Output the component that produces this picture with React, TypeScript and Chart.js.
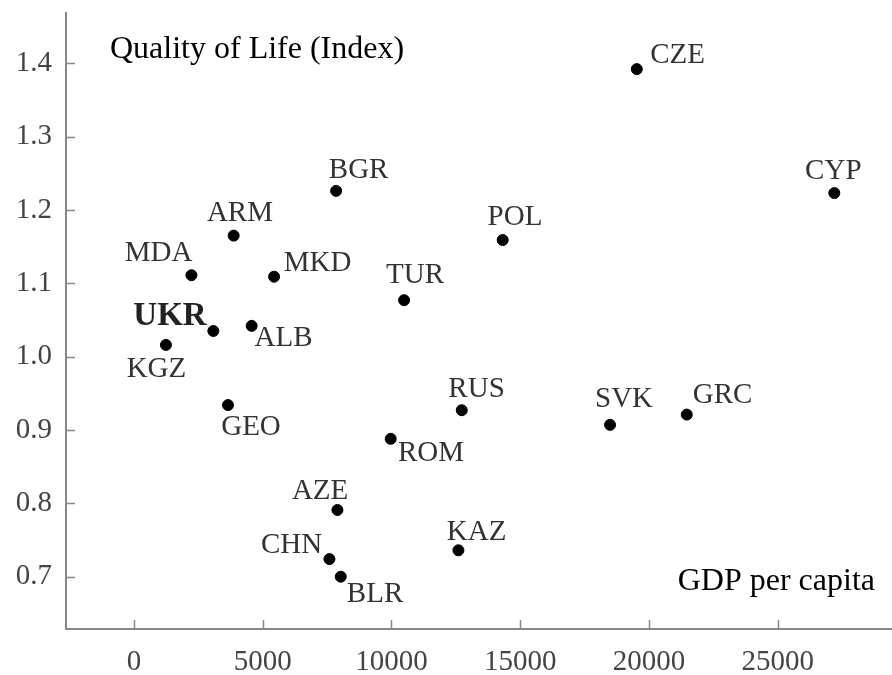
import React, { useEffect, useRef } from "react";
import { Chart, registerables } from "chart.js";

Chart.register(...registerables);

const countries = ["CZE", "CYP", "POL", "BGR", "ARM", "MDA", "MKD", "TUR", "UKR", "ALB", "KGZ", "GEO", "ROM", "AZE", "CHN", "BLR", "RUS", "SVK", "GRC", "KAZ"];
const gdpPerCapita = [19530, 27200, 14320, 7850, 3870, 2230, 5440, 10490, 3080, 4570, 1240, 3650, 9970, 7900, 7590, 8030, 12730, 18490, 21470, 12600];
const qualityOfLife = [1.392, 1.223, 1.159, 1.226, 1.165, 1.111, 1.109, 1.077, 1.035, 1.042, 1.016, 0.934, 0.888, 0.791, 0.724, 0.700, 0.927, 0.907, 0.921, 0.736];
// label offsets (style): text centre relative to the dot, in px
const labelDx = [40.8, -1, 12.3, 22.5, 6.3, -32.8, 43.5, 11, -43.3, 31.8, -9.5, 23, 40.3, -17.3, -37.8, 34.3, 14.8, 14, 35.8, 18.2];
const labelDy = [-13.5, -21.7, -22.5, -20.7, -22.7, -22.3, -13.7, -24.5, -14.5, 13, 24, 22.7, 14.5, -19, -13.3, 18, -21, -25, -19, -18.2];
const boldLabel = "UKR";

const xTicks = [0, 5000, 10000, 15000, 20000, 25000];
const yTicks = [0.7, 0.8, 0.9, 1.0, 1.1, 1.2, 1.3, 1.4];
const yTitle = "Quality of Life (Index)";
const xTitle = "GDP per capita";

const SERIF = "'Liberation Serif', 'Times New Roman', serif";

const overlayPlugin = {
  id: "overlay",
  afterDraw(chart: any) {
    const ctx = chart.ctx;
    const xs = chart.scales.x;
    const ys = chart.scales.y;
    const area = chart.chartArea;
    ctx.save();
    // inward tick marks
    ctx.strokeStyle = "#888";
    ctx.lineWidth = 1.5;
    ctx.beginPath();
    yTicks.forEach((v) => {
      const py = Math.round(ys.getPixelForValue(v)) + 0.5;
      ctx.moveTo(area.left, py);
      ctx.lineTo(area.left + 9, py);
    });
    xTicks.forEach((v) => {
      const px = Math.round(xs.getPixelForValue(v)) + 0.5;
      ctx.moveTo(px, area.bottom);
      ctx.lineTo(px, area.bottom - 9);
    });
    ctx.stroke();

    // point labels
    const meta = chart.getDatasetMeta(0);
    ctx.textAlign = "center";
    ctx.textBaseline = "middle";
    countries.forEach((c, i) => {
      const el = meta.data[i];
      if (!el) return;
      if (c === boldLabel) {
        ctx.font = `bold 33px ${SERIF}`;
        ctx.fillStyle = "#222";
      } else {
        ctx.font = `29px ${SERIF}`;
        ctx.fillStyle = "#333";
      }
      ctx.fillText(c, el.x + labelDx[i], el.y + labelDy[i]);
    });

    // axis titles
    ctx.fillStyle = "#000";
    ctx.font = `32px ${SERIF}`;
    ctx.textBaseline = "alphabetic";
    ctx.textAlign = "left";
    ctx.fillText(yTitle, area.left + 44, area.top + 45);
    ctx.textAlign = "right";
    ctx.fillText(xTitle, area.right - 17, area.bottom - 39);
    ctx.restore();
  },
};

export default function App() {
  const canvasRef = useRef<HTMLCanvasElement | null>(null);

  useEffect(() => {
    document.body.style.margin = "0";
    const canvas = canvasRef.current;
    if (!canvas) return;
    const points = gdpPerCapita.map((g, i) => ({ x: g, y: qualityOfLife[i] }));
    const chart = new Chart(canvas, {
      type: "scatter",
      data: {
        datasets: [
          {
            label: "Countries",
            data: points,
            backgroundColor: "#000",
            borderColor: "#000",
            pointRadius: 5.5,
            pointHoverRadius: 5.5,
          },
        ],
      },
      options: {
        animation: false,
        responsive: false,
        maintainAspectRatio: false,
        layout: { autoPadding: false, padding: { top: 13, right: 0, left: 0, bottom: 0 } },
        plugins: {
          legend: { display: false },
          tooltip: { enabled: false },
          title: { display: false },
        },
        scales: {
          x: {
            type: "linear",
            min: -2642,
            max: 29441,
            grid: { display: false, drawTicks: false },
            border: { display: true, color: "#888", width: 2 },
            afterFit: (s: any) => {
              s.height = 46;
              s.paddingLeft = 0;
              s.paddingRight = 0;
            },
            afterBuildTicks: (s: any) => {
              s.ticks = xTicks.map((v) => ({ value: v }));
            },
            ticks: {
              padding: 16,
              color: "#444",
              font: { family: SERIF, size: 29 },
              maxRotation: 0,
              autoSkip: false,
              callback: (v: any) => String(v),
            },
          },
          y: {
            type: "linear",
            min: 0.6287,
            max: 1.4685,
            grid: { display: false, drawTicks: false },
            border: { display: true, color: "#888", width: 2 },
            afterFit: (s: any) => {
              s.width = 66;
              s.paddingTop = 0;
              s.paddingBottom = 0;
            },
            afterBuildTicks: (s: any) => {
              s.ticks = yTicks.map((v) => ({ value: v }));
            },
            ticks: {
              padding: 14,
              color: "#444",
              font: { family: SERIF, size: 29 },
              autoSkip: false,
              callback: (v: any) => Number(v).toFixed(1),
            },
          },
        },
      },
      plugins: [overlayPlugin],
    });
    return () => chart.destroy();
  }, []);

  return (
    <div style={{ width: 892, height: 675 }}>
      <canvas ref={canvasRef} width={892} height={675} style={{ display: "block" }} />
    </div>
  );
}
